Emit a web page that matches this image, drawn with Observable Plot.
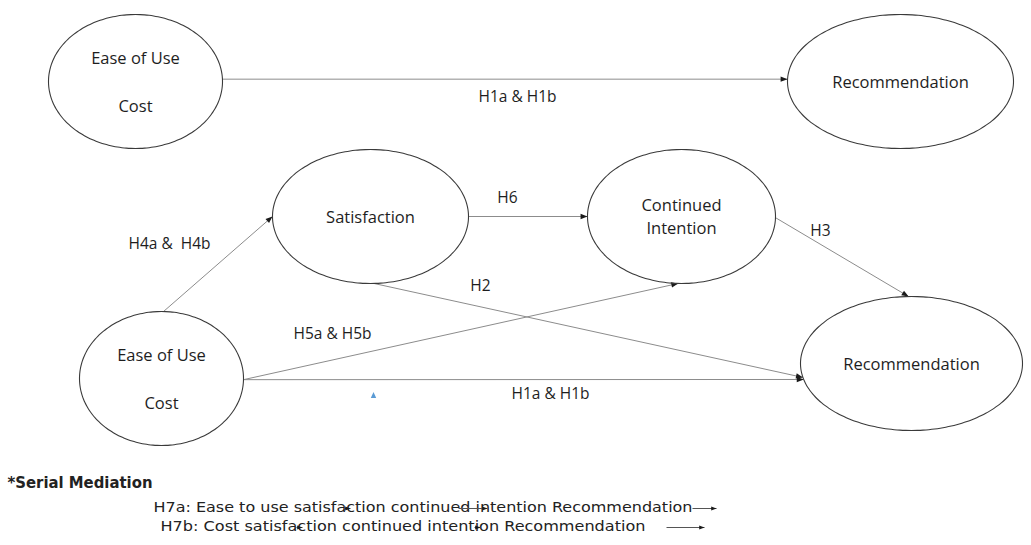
<!DOCTYPE html>
<html><head><meta charset="utf-8">
<script src="https://cdn.jsdelivr.net/npm/d3@7"></script>
<script src="https://cdn.jsdelivr.net/npm/@observablehq/plot@0.6"></script>
<style>html,body{margin:0;padding:0;background:#fff;} #chart svg{display:block;}</style>
</head><body><div id="chart"></div>
<script>
// ---- Diagram content ----
const nodeIds    = ["eouTop", "recTop", "sat", "cont", "eouBot", "recBot"];
const nodeLabels = [["Ease of Use", "Cost"], ["Recommendation"], ["Satisfaction"], ["Continued", "Intention"], ["Ease of Use", "Cost"], ["Recommendation"]];

const edgeFrom   = ["eouTop", "eouBot", "sat", "cont", "sat", "eouBot", "eouBot"];
const edgeTo     = ["recTop", "sat", "cont", "recBot", "recBot", "cont", "recBot"];
const edgeLabels = ["H1a & H1b", "H4a &  H4b", "H6", "H3", "H2", "H5a & H5b", "H1a & H1b"];

const noteTitle = "*Serial Mediation";
const noteLines = ["H7a: Ease to use satisfaction continued intention Recommendation",
                   "H7b: Cost satisfaction continued intention Recommendation"];

// ---- Layout (diagram units = pixels) ----
const nodeCx = [135, 900, 370, 681, 161, 911];
const nodeCy = [81, 81, 216, 216, 378, 363];
const nodeRx = [87, 113, 98, 94, 82, 111];
const nodeRy = [67, 67, 67, 67, 67, 67];
const nodeGap = [48, 0, 0, 23, 48, 0];
const edgeFromAngle = [-2, -88.6, 0, 1, 88, 1, 1];
const edgeToAngle   = [182, 180, 180, -91.5, 168, 92, 166.2];
const edgeLabelX = [517, 169, 507, 820, 480, 332, 550];
const edgeLabelY = [97, 244, 198, 231, 286, 334, 394];
const noteX = [153, 160], noteY = [507, 526], noteW = [539, 485];
const noteArrowRow = [0, 0, 0, 1, 1, 1];
const noteArrowX1  = [344, 458, 692, 296, 474, 666];
const noteArrowX2  = [350, 487, 716, 302, 480, 704];

const W = 1031, H = 545;
const nodes = nodeIds.map((id, i) => ({id, cx: nodeCx[i], cy: nodeCy[i], rx: nodeRx[i], ry: nodeRy[i]}));
const byId = Object.fromEntries(nodes.map(n => [n.id, n]));
const onEllipse = (n, deg) => {
  const a = deg * Math.PI / 180;
  return [n.cx + n.rx * Math.cos(a), n.cy + n.ry * Math.sin(a)];
};
const outline = nodes.flatMap(n => d3.range(0, 360, 3).map(d => {
  const [x, y] = onEllipse(n, d); return {id: n.id, x, y};
}));
const nodeText = nodes.flatMap((n, i) => nodeLabels[i].map((t, j, arr) => ({
  t, x: n.cx, y: n.cy + 1 + (j - (arr.length - 1) / 2) * nodeGap[i]
})));
const edges = edgeFrom.map((f, i) => {
  const [x1, y1] = onEllipse(byId[f], edgeFromAngle[i]);
  const [x2, y2] = onEllipse(byId[edgeTo[i]], edgeToAngle[i]);
  return {x1, y1, x2, y2, rot: Math.atan2(x2 - x1, -(y2 - y1)) * 180 / Math.PI,
          label: edgeLabels[i], lx: edgeLabelX[i], ly: edgeLabelY[i]};
});
const noteArrows = noteArrowRow.map((r, i) => ({x1: noteArrowX1[i], x2: noteArrowX2[i], y: noteY[r] + 1}));

// arrowhead symbol whose tip sits at the anchor point
const headSymbol = {draw(ctx, size) {
  const s = Math.sqrt(size);
  ctx.moveTo(0, 0); ctx.lineTo(-0.45 * s, 1.15 * s); ctx.lineTo(0.45 * s, 1.15 * s); ctx.closePath();
}};
const upTri = {draw(ctx, size) {
  const s = Math.sqrt(size);
  ctx.moveTo(0, -0.6 * s); ctx.lineTo(-0.45 * s, 0.4 * s); ctx.lineTo(0.45 * s, 0.4 * s); ctx.closePath();
}};

const font = "'Open Sans', 'Liberation Sans', sans-serif";
const narrow = "'Liberation Sans Narrow', 'DejaVu Sans Condensed', 'Open Sans', sans-serif";
const chart = Plot.plot({
  width: W, height: H, margin: 0,
  x: {domain: [0, W], range: [0, W], axis: null},
  y: {domain: [0, H], range: [0, H], axis: null},
  style: {background: "#fff", overflow: "visible"},
  marks: [
    Plot.link(edges, {x1: "x1", y1: "y1", x2: "x2", y2: "y2", stroke: "#8c8c8c", strokeWidth: 1}),
    Plot.dot(edges, {x: "x2", y: "y2", rotate: "rot", symbol: headSymbol, r: 3.4, fill: "#1a1a1a", stroke: "none"}),
    Plot.line(outline, {x: "x", y: "y", z: "id", curve: "catmull-rom-closed", stroke: "#3a3a3a", strokeWidth: 1.1, fill: "none"}),
    Plot.text(nodeText, {x: "x", y: "y", text: "t", fontSize: 16.5, fontFamily: font, fill: "#1e1e1e"}),
    Plot.text(edges, {x: "lx", y: "ly", text: "label", fontSize: 15.5, fontFamily: font, fill: "#1e1e1e"}),
    Plot.dot([{x: 373, y: 395}], {x: "x", y: "y", symbol: upTri, r: 3.4, fill: "#5b9bd5", stroke: "none"}),
    Plot.text([noteTitle], {x: 7, y: 483, text: d => d, textAnchor: "start", fontSize: 15, fontWeight: "bold",
      fontFamily: narrow, fill: "#222"}),
    Plot.text(noteLines, {x: (d, i) => noteX[i], y: (d, i) => noteY[i], text: d => d, textAnchor: "start", fontSize: 14,
      fontFamily: narrow, fill: "#222"}),
    Plot.link(noteArrows, {x1: "x1", x2: "x2", y1: "y", y2: "y", stroke: "#555", strokeWidth: 1}),
    Plot.dot(noteArrows, {x: "x2", y: "y", rotate: 90, symbol: headSymbol, r: 2.6, fill: "#1a1a1a", stroke: "none"})
  ]
});
document.getElementById("chart").appendChild(chart);
// fit the note lines to their measured widths
const fit = new Map([[noteTitle, 145], [noteLines[0], noteW[0]], [noteLines[1], noteW[1]]]);
d3.select(chart).selectAll("text").each(function() {
  const w = fit.get(this.textContent);
  if (w) { this.setAttribute("textLength", w); this.setAttribute("lengthAdjust", "spacingAndGlyphs"); }
});
</script>
</body></html>
